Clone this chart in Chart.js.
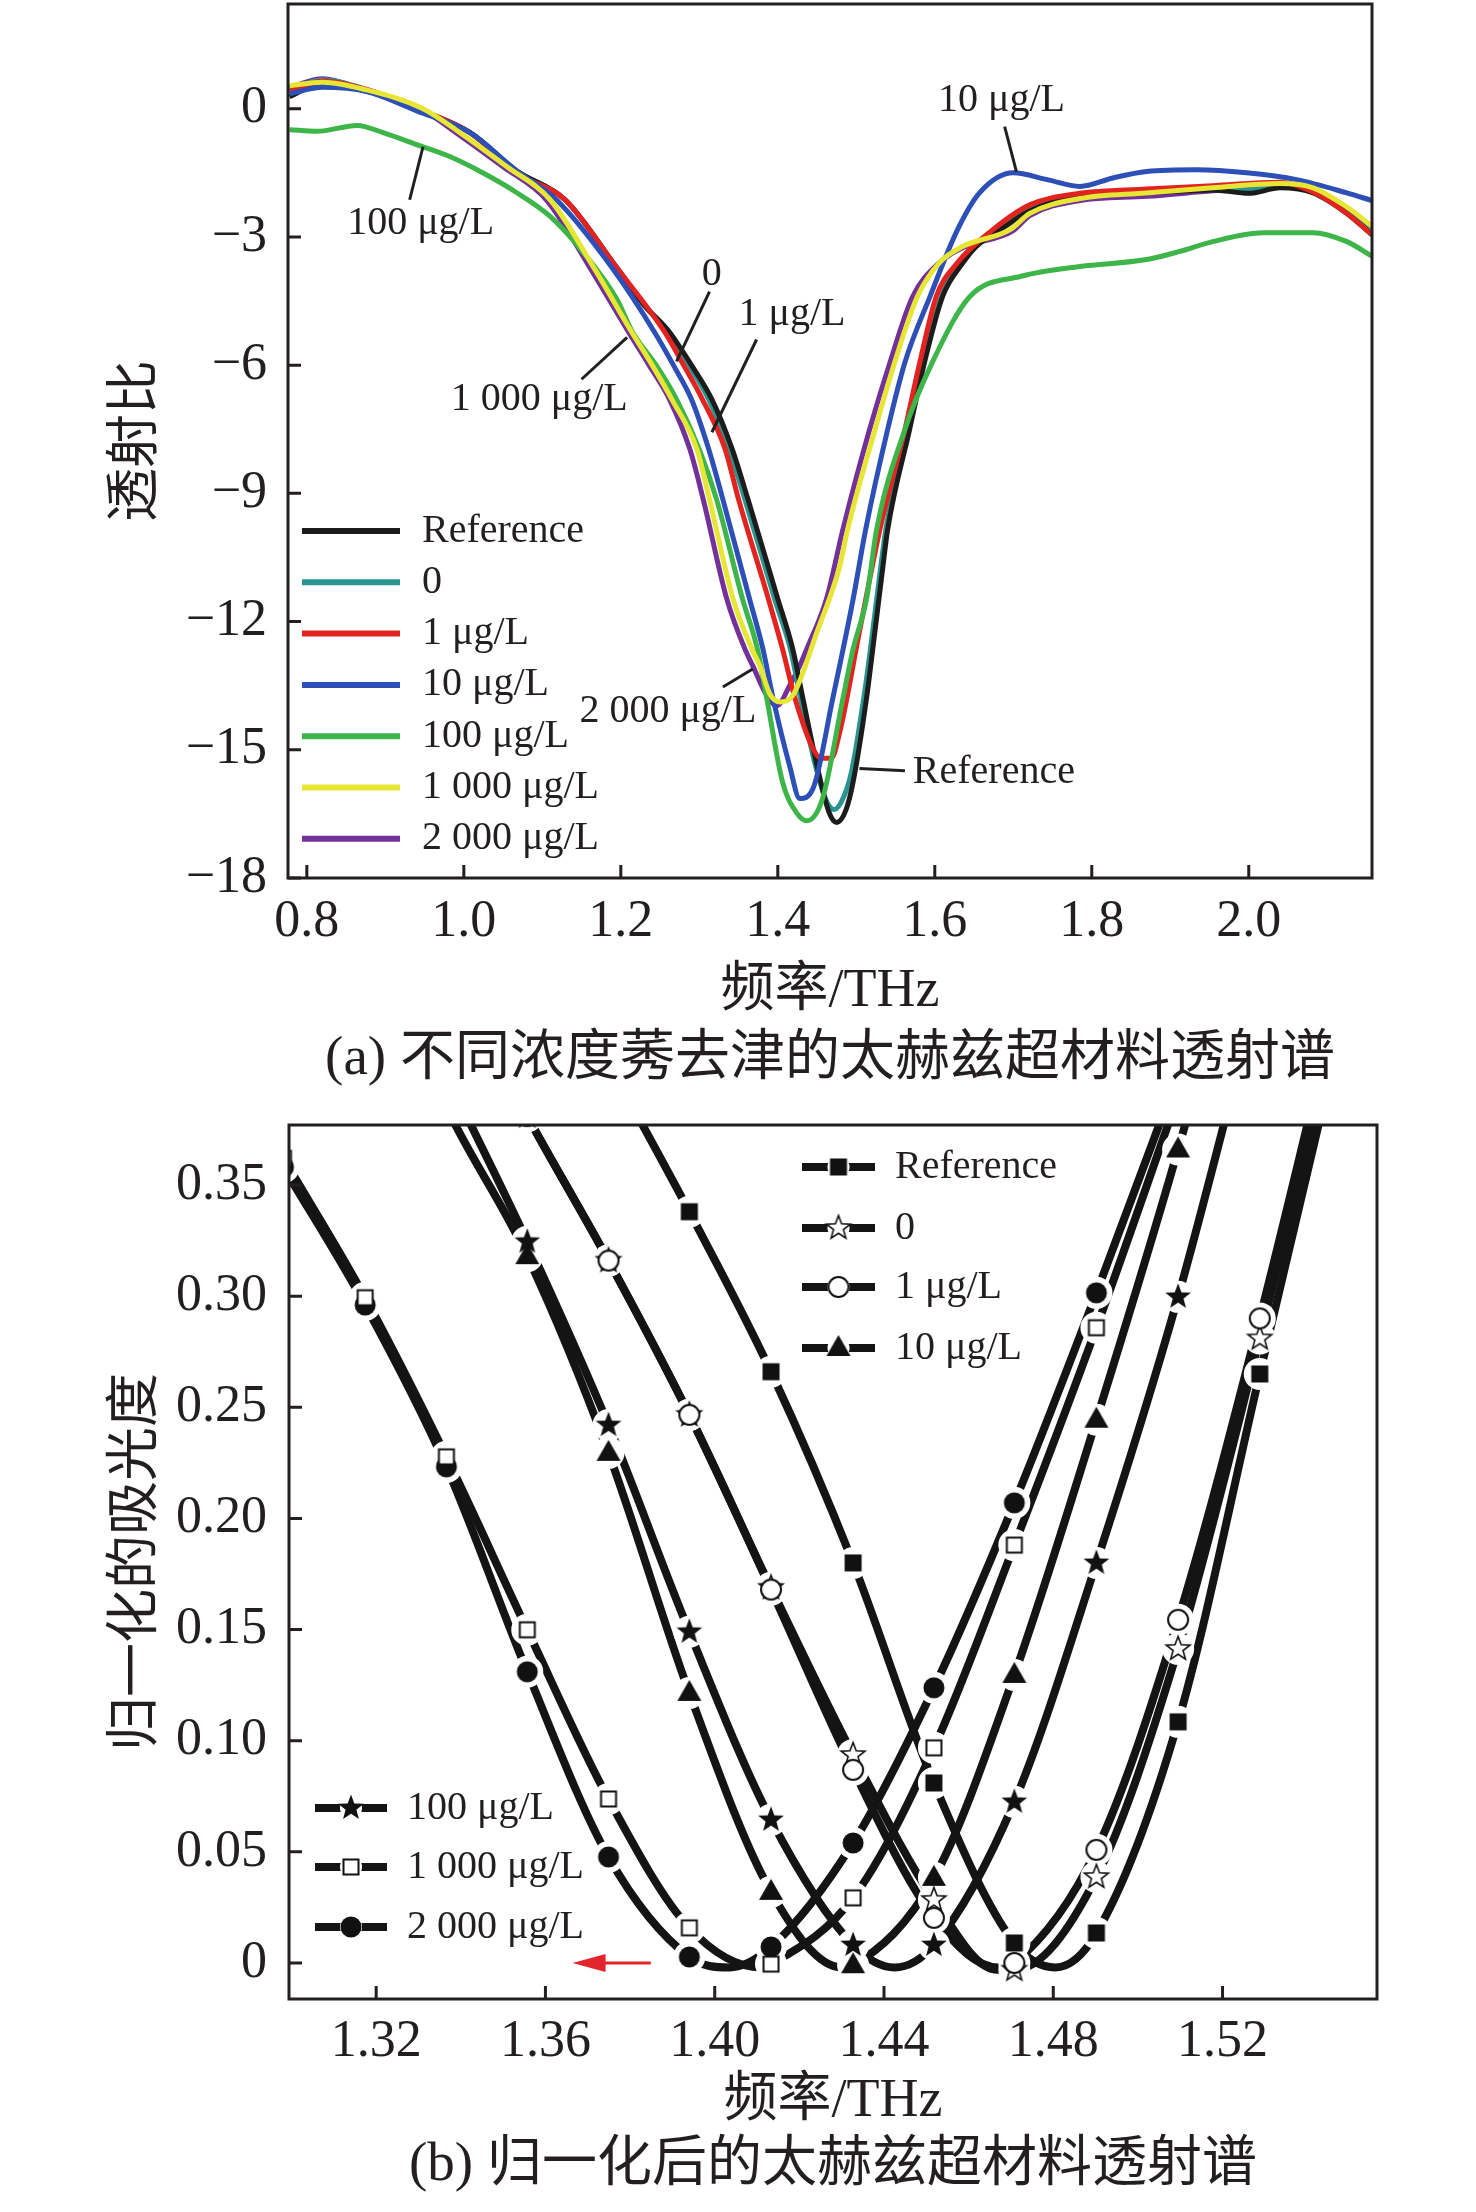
<!DOCTYPE html>
<html lang="zh">
<head>
<meta charset="utf-8">
<title>太赫兹超材料透射谱</title>
<script src="https://cdn.jsdelivr.net/npm/chart.js@4.4.1/dist/chart.umd.min.js"></script>
<style>
  html, body { margin: 0; padding: 0; background: #fff; }
  #wrap { position: relative; width: 1476px; height: 2212px; }
  canvas { position: absolute; left: 0; }
  #graficoA { top: 0; }
  #graficoB { top: 1100px; }
</style>
</head>
<body>
<div id="wrap">
  <canvas id="graficoA" width="1476" height="1100"></canvas>
  <canvas id="graficoB" width="1476" height="1112"></canvas>
</div>
<script>
// 1. Datos (a): transmision vs frecuencia (THz)
const frecRef = [0.778, 0.82, 0.876, 0.94, 1.008, 1.067, 1.129, 1.194, 1.23, 1.262, 1.29, 1.316, 1.342, 1.362, 1.40, 1.419, 1.432, 1.45, 1.465, 1.475, 1.487, 1.496, 1.513, 1.521, 1.534, 1.54, 1.568, 1.587, 1.61, 1.636, 1.653, 1.69, 1.72, 1.785, 1.87, 1.954, 2.0, 2.04, 2.082, 2.125, 2.157];
const transRef = [0.28, 0.6, 0.42, 0.0, -0.56, -1.45, -2.13, -3.7, -4.6, -5.23, -6.0, -6.8, -7.97, -9.14, -11.47, -12.64, -13.8, -15.37, -16.45, -16.7, -16.4, -15.75, -13.8, -12.64, -10.7, -9.84, -7.5, -5.93, -4.39, -3.6, -3.22, -2.75, -2.4, -2.05, -1.97, -1.9, -1.98, -1.85, -1.97, -2.45, -2.95];

const frec0 = [0.778, 0.82, 0.876, 0.94, 1.008, 1.067, 1.129, 1.194, 1.23, 1.262, 1.287, 1.312, 1.338, 1.358, 1.396, 1.416, 1.429, 1.447, 1.462, 1.472, 1.484, 1.494, 1.511, 1.519, 1.532, 1.538, 1.566, 1.586, 1.609, 1.635, 1.652, 1.69, 1.72, 1.785, 1.87, 1.954, 2.0, 2.04, 2.082, 2.125, 2.157];
const trans0 = [0.45, 0.68, 0.45, 0.0, -0.56, -1.45, -2.13, -3.7, -4.6, -5.23, -6.0, -6.8, -7.97, -9.14, -11.47, -12.64, -13.8, -15.3, -16.2, -16.4, -16.1, -15.5, -13.6, -12.5, -10.6, -9.8, -7.45, -5.9, -4.37, -3.55, -3.18, -2.7, -2.35, -2.0, -1.93, -1.85, -1.9, -1.8, -1.9, -2.4, -2.9];

const frec1 = [0.778, 0.82, 0.876, 0.94, 1.008, 1.067, 1.129, 1.194, 1.256, 1.28, 1.304, 1.333, 1.35, 1.388, 1.406, 1.422, 1.445, 1.455, 1.468, 1.479, 1.504, 1.53, 1.562, 1.581, 1.602, 1.629, 1.674, 1.721, 1.785, 1.87, 1.954, 2.04, 2.082, 2.125, 2.157];
const trans1 = [0.4, 0.65, 0.45, 0.0, -0.56, -1.5, -2.13, -3.7, -5.23, -6.0, -6.8, -7.97, -9.14, -11.47, -12.64, -13.8, -14.98, -15.2, -15.2, -14.58, -12.24, -9.85, -7.5, -5.93, -4.39, -3.6, -2.83, -2.25, -1.98, -1.88, -1.8, -1.72, -1.95, -2.45, -2.95];

const frec10 = [0.778, 0.82, 0.876, 0.94, 1.008, 1.067, 1.118, 1.188, 1.243, 1.267, 1.29, 1.312, 1.33, 1.364, 1.381, 1.394, 1.415, 1.428, 1.445, 1.47, 1.496, 1.512, 1.54, 1.562, 1.594, 1.629, 1.657, 1.70, 1.743, 1.785, 1.827, 1.87, 1.934, 1.997, 2.061, 2.125, 2.157];
const trans10 = [0.35, 0.5, 0.4, -0.05, -0.56, -1.45, -2.13, -3.7, -5.23, -6.0, -6.8, -7.97, -9.14, -11.47, -12.64, -13.8, -15.37, -16.14, -15.9, -13.8, -11.47, -9.84, -7.5, -5.93, -4.39, -2.83, -1.97, -1.5, -1.66, -1.82, -1.62, -1.47, -1.43, -1.5, -1.66, -1.97, -2.15];

const frec100 = [0.778, 0.813, 0.864, 0.897, 0.94, 0.982, 1.024, 1.067, 1.11, 1.152, 1.195, 1.215, 1.245, 1.271, 1.30, 1.322, 1.355, 1.374, 1.386, 1.406, 1.425, 1.437, 1.457, 1.483, 1.496, 1.513, 1.526, 1.562, 1.597, 1.645, 1.71, 1.785, 1.87, 1.912, 1.954, 2.018, 2.082, 2.125, 2.157];
const trans100 = [-0.49, -0.53, -0.39, -0.56, -0.84, -1.12, -1.5, -1.96, -2.52, -3.36, -4.46, -5.23, -6.0, -6.8, -7.97, -9.14, -11.47, -12.64, -13.8, -15.75, -16.5, -16.66, -16.14, -13.8, -12.64, -11.47, -9.84, -7.5, -5.93, -4.39, -3.92, -3.69, -3.53, -3.34, -3.11, -2.9, -2.9, -3.11, -3.45];

const frec1000 = [0.778, 0.82, 0.876, 0.948, 0.995, 1.055, 1.11, 1.165, 1.214, 1.24, 1.265, 1.297, 1.313, 1.343, 1.367, 1.377, 1.39, 1.403, 1.42, 1.45, 1.479, 1.489, 1.524, 1.549, 1.578, 1.606, 1.636, 1.696, 1.721, 1.785, 1.87, 1.954, 2.04, 2.082, 2.125, 2.157];
const trans1000 = [0.54, 0.62, 0.44, 0.0, -0.56, -1.36, -2.13, -3.7, -5.23, -6.0, -6.8, -7.97, -9.14, -11.47, -12.64, -13.03, -13.7, -13.88, -13.7, -12.24, -10.7, -9.84, -7.5, -5.93, -4.39, -3.6, -3.22, -2.83, -2.45, -2.1, -1.97, -1.85, -1.75, -1.85, -2.3, -2.75];

const frec2000 = [0.778, 0.82, 0.876, 0.945, 0.99, 1.05, 1.105, 1.16, 1.21, 1.236, 1.262, 1.288, 1.305, 1.335, 1.358, 1.368, 1.385, 1.399, 1.415, 1.428, 1.437, 1.462, 1.483, 1.517, 1.543, 1.572, 1.606, 1.636, 1.70, 1.721, 1.785, 1.87, 1.954, 2.04, 2.082, 2.125, 2.157];
const trans2000 = [0.5, 0.7, 0.42, 0.0, -0.56, -1.36, -2.13, -3.7, -5.23, -6.0, -6.8, -7.97, -9.14, -11.47, -12.64, -13.03, -13.7, -13.97, -13.5, -13.03, -12.64, -11.47, -9.84, -7.5, -5.93, -4.39, -3.6, -3.25, -2.85, -2.5, -2.15, -2.05, -1.92, -1.8, -1.9, -2.35, -2.85];

const ticksXA = [0.8, 1.0, 1.2, 1.4, 1.6, 1.8, 2.0];
const ticksYA = [-18, -15, -12, -9, -6, -3, 0];

// 2. Datos (b): absorbancia normalizada (puntos = marcadores, valle = fondo de la curva)
const absRefX = [1.3749, 1.3940, 1.4133, 1.4327, 1.4518, 1.4708, 1.4902, 1.5095, 1.5288, 1.5480];
const absRefY = [0.405, 0.338, 0.266, 0.180, 0.081, 0.009, 0.0135, 0.1085, 0.265, 0.42];
const valleRef = [1.4805, -0.002];

const abs0X = [1.3366, 1.3557, 1.3749, 1.3940, 1.4133, 1.4327, 1.4518, 1.4708, 1.4902, 1.5095, 1.5288, 1.5480];
const abs0Y = [0.45, 0.381, 0.316, 0.2466, 0.1688, 0.0936, 0.0284, -0.003, 0.0387, 0.1413, 0.281, 0.43];
const valle0 = [1.4665, -0.003];

const abs1X = [1.3366, 1.3557, 1.3749, 1.3940, 1.4133, 1.4327, 1.4518, 1.4708, 1.4902, 1.5095, 1.5288, 1.5480];
const abs1Y = [0.45, 0.381, 0.316, 0.2466, 0.168, 0.0869, 0.0203, 0.0, 0.0509, 0.1544, 0.29, 0.44];
const valle1 = [1.4670, -0.002];

const abs10X = [1.3174, 1.3366, 1.3557, 1.3749, 1.3940, 1.4133, 1.4327, 1.4518, 1.4708, 1.4902, 1.5095, 1.5288];
const abs10Y = [0.47, 0.385, 0.318, 0.2295, 0.1215, 0.032, -0.001, 0.0383, 0.1296, 0.2444, 0.366, 0.50];
const valle10 = [1.4300, -0.002];

const abs100X = [1.3174, 1.3366, 1.3557, 1.3749, 1.3940, 1.4133, 1.4327, 1.4518, 1.4708, 1.4902, 1.5095, 1.5288];
const abs100Y = [0.48, 0.40, 0.3245, 0.242, 0.149, 0.0644, 0.0081, 0.0081, 0.0725, 0.18, 0.2997, 0.44];
const valle100 = [1.4425, -0.002];

const abs1000X = [1.2981, 1.3174, 1.3366, 1.3557, 1.3749, 1.3940, 1.4133, 1.4327, 1.4518, 1.4708, 1.4902, 1.5095];
const abs1000Y = [0.362, 0.2993, 0.2277, 0.1499, 0.0738, 0.0158, -0.0005, 0.0293, 0.0968, 0.188, 0.2858, 0.39];
const valle1000 = [1.4110, -0.002];

const abs2000X = [1.2981, 1.3174, 1.3366, 1.3557, 1.3749, 1.3940, 1.4133, 1.4327, 1.4518, 1.4708, 1.4902, 1.5095];
const abs2000Y = [0.358, 0.296, 0.2232, 0.131, 0.0477, 0.0027, 0.0072, 0.054, 0.1238, 0.207, 0.3015, 0.40];
const valle2000 = [1.4035, -0.002];

const ticksXB = [1.32, 1.36, 1.40, 1.44, 1.48, 1.52];
const ticksYB = [0, 0.05, 0.10, 0.15, 0.20, 0.25, 0.30, 0.35];

const nombres = ['Reference', '0', '1 μg/L', '10 μg/L', '100 μg/L', '1 000 μg/L', '2 000 μg/L'];

// 3. Estilos
const tinta = '#231f20';
const fuente = '"Liberation Serif", "Noto Sans CJK SC", serif';
const coloresA = ['#1c1c1c', '#2a9490', '#e2231f', '#2c4fb8', '#3db548', '#e8e634', '#73309a'];
const ordenA = [4, 5, 3, 2, 1, 0, 6];

// anotaciones con linea guia, en coordenadas de datos
const notasA = [
  { t: '10 μg/L',    x: 1.685, y: 0.19,   l: [1.689, -0.42, 1.704, -1.47] },
  { t: '100 μg/L',   x: 0.945, y: -2.69,  l: [0.948, -0.89, 0.931, -2.13] },
  { t: '0',          x: 1.316, y: -3.88,  l: [1.313, -4.28, 1.271, -5.91] },
  { t: '1 μg/L',     x: 1.418, y: -4.81,  l: [1.373, -5.40, 1.316, -7.57] },
  { t: '1 000 μg/L', x: 1.096, y: -6.80,  l: [1.150, -6.33, 1.208, -5.35] },
  { t: '2 000 μg/L', x: 1.260, y: -14.11, l: [1.330, -13.53, 1.368, -13.11] },
  { t: 'Reference',  x: 1.572, y: -15.54, l: [1.504, -15.44, 1.562, -15.49], izq: true }
];

// marcadores (b) dibujados en canvas pequeños
function hacerMarca(tipo) {
  const c = document.createElement('canvas');
  c.width = 30; c.height = 30;
  const g = c.getContext('2d');
  g.fillStyle = '#111'; g.strokeStyle = '#111'; g.lineWidth = 2;
  const cx = 15, cy = 15;
  if (tipo === 'rectF') { g.fillRect(cx - 8.5, cy - 8.5, 17, 17); }
  if (tipo === 'rectO') { g.fillStyle = '#fff'; g.fillRect(cx - 7.5, cy - 7.5, 15, 15); g.strokeRect(cx - 7.5, cy - 7.5, 15, 15); }
  if (tipo === 'circF') { g.beginPath(); g.arc(cx, cy, 10.5, 0, Math.PI * 2); g.fill(); }
  if (tipo === 'circO') { g.beginPath(); g.arc(cx, cy, 10, 0, Math.PI * 2); g.fillStyle = '#fff'; g.fill(); g.stroke(); }
  if (tipo === 'tri') { g.beginPath(); g.moveTo(cx, cy - 13); g.lineTo(cx - 12, cy + 8); g.lineTo(cx + 12, cy + 8); g.closePath(); g.fill(); }
  if (tipo === 'starF' || tipo === 'starO') {
    const R = tipo === 'starF' ? 13.5 : 12.5, r = R * 0.42;
    g.beginPath();
    for (let k = 0; k < 10; k++) {
      const rad = k % 2 ? r : R, ang = -Math.PI / 2 + k * Math.PI / 5;
      const px = cx + rad * Math.cos(ang), py = cy + rad * Math.sin(ang);
      k ? g.lineTo(px, py) : g.moveTo(px, py);
    }
    g.closePath();
    if (tipo === 'starF') { g.fill(); } else { g.fillStyle = '#fff'; g.fill(); g.lineWidth = 1.6; g.stroke(); }
  }
  return c;
}
const marcas = ['rectF', 'starO', 'circO', 'tri', 'starF', 'rectO', 'circF'].map(hacerMarca);
const ordenMarcasB = [10, 12, 11, 10, 10, 10, 13];

// 4. Utilidades de dibujo
function marco(ctx, a, sx, sy) {
  ctx.save();
  ctx.strokeStyle = tinta;
  ctx.lineWidth = 3;
  ctx.strokeRect(a.left, a.top, a.right - a.left, a.bottom - a.top);
  ctx.beginPath();
  sx.ticks.forEach(t => { const p = sx.getPixelForValue(t.value); ctx.moveTo(p, a.bottom); ctx.lineTo(p, a.bottom - 13); });
  sy.ticks.forEach(t => { const p = sy.getPixelForValue(t.value); ctx.moveTo(a.left, p); ctx.lineTo(a.left + 13, p); });
  ctx.stroke();
  ctx.restore();
}

function texto(ctx, s, x, y, size, align, rot) {
  ctx.save();
  ctx.translate(x, y);
  if (rot) ctx.rotate(rot);
  ctx.font = size + 'px ' + fuente;
  ctx.fillStyle = tinta;
  ctx.textAlign = align || 'center';
  ctx.textBaseline = 'middle';
  ctx.fillText(s, 0, 0);
  ctx.restore();
}

function linea(ctx, x1, y1, x2, y2, w, color) {
  ctx.save();
  ctx.strokeStyle = color; ctx.lineWidth = w; ctx.lineCap = 'butt';
  ctx.beginPath(); ctx.moveTo(x1, y1); ctx.lineTo(x2, y2); ctx.stroke();
  ctx.restore();
}

function ejes(min, max, ticks, fmt, pad, size) {
  return {
    type: 'linear', min: min, max: max,
    grid: { display: false, drawTicks: false },
    border: { display: false },
    ticks: { padding: pad, color: tinta, autoSkip: false, maxRotation: 0, font: { family: fuente, size: 52 }, callback: fmt },
    afterBuildTicks: s => { s.ticks = ticks.map(v => ({ value: v })); },
    afterFit: s => {
      if (s.isHorizontal()) s.height = size; else s.width = size;
      // sin relleno extra por las etiquetas de los extremos
      s.paddingTop = 0; s.paddingBottom = 0; s.paddingLeft = 0; s.paddingRight = 0;
    }
  };
}

// 5. Grafico (a)
const frecA = [frecRef, frec0, frec1, frec10, frec100, frec1000, frec2000];
const transA = [transRef, trans0, trans1, trans10, trans100, trans1000, trans2000];

const decoA = {
  id: 'decoA',
  afterDraw(chart) {
    const { ctx, chartArea: a, scales: { x, y } } = chart;
    marco(ctx, a, x, y);
    // anotaciones
    notasA.forEach(n => {
      linea(ctx, x.getPixelForValue(n.l[0]), y.getPixelForValue(n.l[1]), x.getPixelForValue(n.l[2]), y.getPixelForValue(n.l[3]), 3, tinta);
      texto(ctx, n.t, x.getPixelForValue(n.x), y.getPixelForValue(n.y), 40, n.izq ? 'left' : 'center');
    });
    // leyenda
    nombres.forEach((n, i) => {
      const yy = 531 + i * 51.3;
      linea(ctx, 302, yy, 400, yy, 6, coloresA[i]);
      texto(ctx, n, 422, yy, 40, 'left');
    });
    // titulos
    texto(ctx, '透射比', 138, (a.top + a.bottom) / 2, 54, 'center', -Math.PI / 2);
    texto(ctx, '频率/THz', (a.left + a.right) / 2, 992, 54);
    texto(ctx, '(a) 不同浓度莠去津的太赫兹超材料透射谱', (a.left + a.right) / 2, 1060, 55);
  }
};

new Chart(document.getElementById('graficoA'), {
  type: 'line',
  data: {
    datasets: nombres.map((n, i) => ({
      label: n,
      data: frecA[i].map((f, j) => ({ x: f, y: transA[i][j] })),
      borderColor: coloresA[i],
      borderWidth: 5,
      pointRadius: 0,
      cubicInterpolationMode: 'monotone',
      order: ordenA[i]
    }))
  },
  options: {
    responsive: false, animation: false, devicePixelRatio: 1, events: [],
    layout: { padding: { top: 4, right: 104, left: 0, bottom: 0 } },
    plugins: { legend: { display: false }, tooltip: { enabled: false } },
    scales: {
      x: ejes(0.776, 2.157, ticksXA, v => v.toFixed(1), 13, 222),
      y: ejes(-18, 2.45, ticksYA, v => v < 0 ? '−' + Math.abs(v) : '0', 21, 288)
    }
  },
  plugins: [decoA]
});

// 6. Grafico (b)
const absX = [absRefX, abs0X, abs1X, abs10X, abs100X, abs1000X, abs2000X];
const absY = [absRefY, abs0Y, abs1Y, abs10Y, abs100Y, abs1000Y, abs2000Y];
const valles = [valleRef, valle0, valle1, valle10, valle100, valle1000, valle2000];

const datasetsB = [];
nombres.forEach((n, i) => {
  const puntos = absX[i].map((f, j) => ({ x: f, y: absY[i][j] }));
  const curva = puntos.concat([{ x: valles[i][0], y: valles[i][1] }]).sort((p, q) => p.x - q.x);
  datasetsB.push({ label: n, data: curva, borderColor: '#141414', borderWidth: 8, pointRadius: 0, cubicInterpolationMode: 'monotone', order: 30, clip: 0 });
  datasetsB.push({ label: n + ' halo', data: puntos, showLine: false, pointStyle: 'circle', pointRadius: 16, pointBackgroundColor: '#fff', pointBorderWidth: 0, order: 20, clip: 0 });
  datasetsB.push({ label: n + ' marca', data: puntos, showLine: false, pointStyle: marcas[i], pointRadius: 12, order: ordenMarcasB[i], clip: 0 });
});

const decoB = {
  id: 'decoB',
  afterDraw(chart) {
    const { ctx, chartArea: a, scales: { x, y } } = chart;
    marco(ctx, a, x, y);
    // leyendas (dos bloques)
    const bloque = (idx, filas, x0, x1, xt) => {
      idx.forEach((i, k) => {
        const yy = filas[k], xm = (x0 + x1) / 2;
        linea(ctx, x0, yy, x1, yy, 8, '#141414');
        ctx.save(); ctx.fillStyle = '#fff'; ctx.beginPath(); ctx.arc(xm, yy, 11, 0, Math.PI * 2); ctx.fill(); ctx.restore();
        ctx.drawImage(marcas[i], xm - 15, yy - 15);
        texto(ctx, nombres[i], xt, yy, 40, 'left');
      });
    };
    bloque([0, 1, 2, 3], [67, 128, 187, 248], 802, 875, 895);
    bloque([4, 5, 6], [708, 767, 827], 315, 387, 407);
    // flecha roja
    const xa = x.getPixelForValue(1.3849), xb = x.getPixelForValue(1.3664), ya = y.getPixelForValue(0);
    linea(ctx, xa, ya, xb + 30, ya, 3, '#e3262d');
    ctx.save(); ctx.fillStyle = '#e3262d'; ctx.beginPath();
    ctx.moveTo(xb, ya); ctx.lineTo(xb + 33, ya - 9); ctx.lineTo(xb + 33, ya + 9); ctx.closePath(); ctx.fill(); ctx.restore();
    // titulos
    texto(ctx, '归一化的吸光度', 138, (a.top + a.bottom) / 2, 54, 'center', -Math.PI / 2);
    texto(ctx, '频率/THz', (a.left + a.right) / 2, 1002, 54);
    texto(ctx, '(b) 归一化后的太赫兹超材料透射谱', (a.left + a.right) / 2, 1066, 55);
  }
};

new Chart(document.getElementById('graficoB'), {
  type: 'line',
  data: { datasets: datasetsB },
  options: {
    responsive: false, animation: false, devicePixelRatio: 1, events: [],
    layout: { padding: { top: 25, right: 99, left: 0, bottom: 0 } },
    plugins: { legend: { display: false }, tooltip: { enabled: false } },
    scales: {
      x: ejes(1.2994, 1.5565, ticksXB, v => v.toFixed(2), 12, 213),
      y: ejes(-0.0162, 0.377, ticksYB, v => v === 0 ? '0' : v.toFixed(2), 22, 289)
    }
  },
  plugins: [decoB]
});
</script>
</body>
</html>
